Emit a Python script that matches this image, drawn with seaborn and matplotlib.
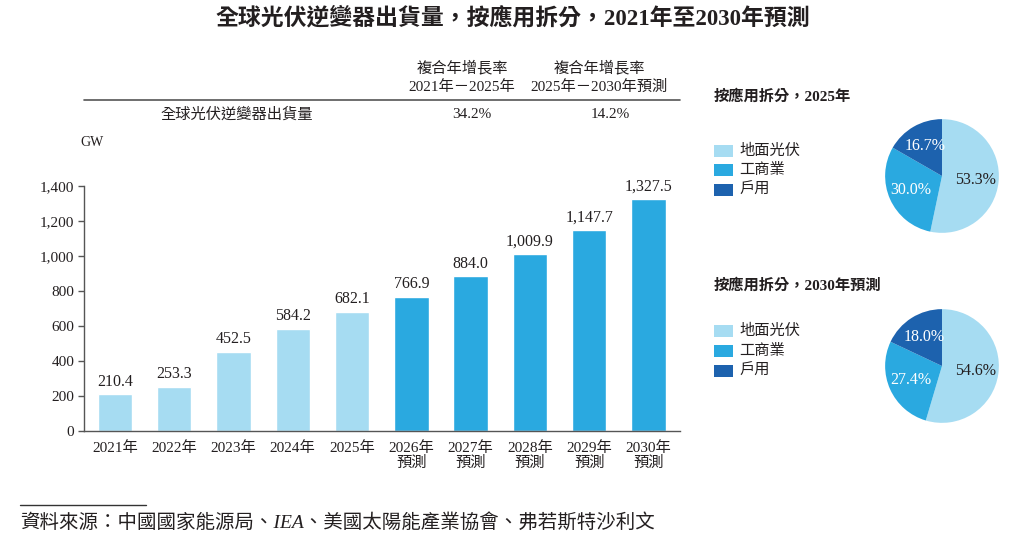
import numpy as np
import pandas as pd
import matplotlib
matplotlib.use('Agg')
import matplotlib.pyplot as plt
from matplotlib.patches import Rectangle
import seaborn as sns

years = ['2021年', '2022年', '2023年', '2024年', '2025年',
         '2026年\n預測', '2027年\n預測', '2028年\n預測', '2029年\n預測', '2030年\n預測']
shipments = [210.4, 253.3, 452.5, 584.2, 682.1, 766.9, 884.0, 1009.9, 1147.7, 1327.5]
is_forecast = [False] * 5 + [True] * 5

segments = ['地面光伏', '工商業', '戶用']
share_2025 = [53.3, 30.0, 16.7]
share_2030 = [54.6, 27.4, 18.0]

cagr_headers = [('複合年增長率', '2021年－2025年'), ('複合年增長率', '2025年－2030年預測')]
cagr_values = ['34.2%', '14.2%']

LIGHT = '#A6DCF2'
MID = '#2AA9E0'
DARK = '#1D62AE'
TXT = '#231F20'

sns.set_theme(style='white')
FAM = ['Liberation Serif', 'Noto Sans CJK TC', 'DejaVu Sans']
plt.rcParams['font.family'] = FAM
plt.rcParams['axes.unicode_minus'] = False

W, H = 1025, 542
fig = plt.figure(figsize=(W / 100, H / 100), dpi=100, facecolor='white')

def fx(px):
    return px / W

def fy(py):
    return 1 - py / H

# ---- bar chart ----
ax = fig.add_axes([fx(84), fy(431), fx(680) - fx(84), fy(186) - fy(431)])
df = pd.DataFrame({'year': years, 'value': shipments})
palette = {y: (MID if f else LIGHT) for y, f in zip(years, is_forecast)}
sns.barplot(data=df, x='year', y='value', hue='year', palette=palette,
            legend=False, width=0.58, saturation=1, ax=ax)
ax.set_ylim(0, 1400)
ax.set_xlim(-0.52, 9.53)
ax.set_yticks(range(0, 1401, 200))
ax.set_yticklabels([f'{v:,}' for v in range(0, 1401, 200)])
ax.set_xlabel('')
ax.set_ylabel('')
for s in ['top', 'right']:
    ax.spines[s].set_visible(False)
for s in ['left', 'bottom']:
    ax.spines[s].set_color('#555555')
    ax.spines[s].set_linewidth(1.0)
ax.tick_params(axis='y', left=True, length=4, width=1, color='#555555',
               labelsize=11, labelcolor=TXT, pad=3)
ax.tick_params(axis='x', bottom=False, labelsize=11, labelcolor=TXT, pad=1.5)
for lbl in ax.get_xticklabels():
    lbl.set_linespacing(1.05)
for i, v in enumerate(shipments):
    ax.text(i, v + 25, f'{v:,.1f}', ha='center', va='bottom', fontsize=11.5,
            color=TXT, clip_on=False)

# ---- GW unit ----
fig.text(fx(80), fy(143), 'GW', fontsize=10, color=TXT, va='center', ha='left')

# ---- title ----
fig.text(0.5, fy(18), '全球光伏逆變器出貨量，按應用拆分，2021年至2030年預測',
         ha='center', va='center', fontsize=16.5, fontweight='bold', color=TXT)

# ---- CAGR table ----
for hx, vx, (h1, h2), v in zip([462, 599], [472, 610], cagr_headers, cagr_values):
    fig.text(fx(hx), fy(68), h1, ha='center', va='center', fontsize=11, color=TXT)
    fig.text(fx(hx), fy(87), h2, ha='center', va='center', fontsize=11, color=TXT)
    fig.text(fx(vx), fy(114), v, ha='center', va='center', fontsize=11, color=TXT)
fig.text(fx(237), fy(114), '全球光伏逆變器出貨量', ha='center', va='center',
         fontsize=11, color=TXT)
fig.add_artist(plt.Line2D([fx(84), fx(680)], [fy(100), fy(100)],
                          color='#555555', linewidth=1.2))

# ---- pies ----
def draw_pie(cy, ty, legend_ys, title, shares):
    fig.text(fx(714), fy(ty), title, ha='left', va='center', fontsize=11,
             fontweight='bold', color=TXT)
    for ly, seg, col in zip(legend_ys, segments, [LIGHT, MID, DARK]):
        fig.add_artist(Rectangle((fx(714), fy(ly + 6)), fx(19), fy(ly - 6) - fy(ly + 6),
                                 facecolor=col, edgecolor='none',
                                 transform=fig.transFigure))
        fig.text(fx(739), fy(ly), seg, ha='left', va='center', fontsize=11, color=TXT)
    r = 58
    pax = fig.add_axes([fx(942 - r), fy(cy + r), fx(2 * r), fy(cy - r) - fy(cy + r)])
    wedges, texts, autotexts = pax.pie(shares, colors=[LIGHT, MID, DARK],
                                       startangle=90, counterclock=False,
                                       autopct='%.1f%%', pctdistance=0.6,
                                       wedgeprops=dict(linewidth=0))
    for t, c in zip(autotexts, [TXT, 'white', 'white']):
        t.set_color(c)
        t.set_fontsize(11.5)
    pax.set_xlim(-1.02, 1.02)
    pax.set_ylim(-1.02, 1.02)
    pax.set_aspect('equal')

draw_pie(176, 96, [151, 170, 190], '按應用拆分，2025年', share_2025)
draw_pie(366, 285, [331, 351, 371], '按應用拆分，2030年預測', share_2030)

# ---- source ----
fig.add_artist(plt.Line2D([fx(20), fx(146)], [fy(505), fy(505)],
                          color='#333333', linewidth=1.0))
fig.text(fx(20), fy(522), '資料來源：中國國家能源局、IEA、美國太陽能產業協會、弗若斯特沙利文',
         ha='left', va='center', fontsize=14, style='italic', color=TXT)

fig.savefig('out.png', dpi=100, facecolor='white')
